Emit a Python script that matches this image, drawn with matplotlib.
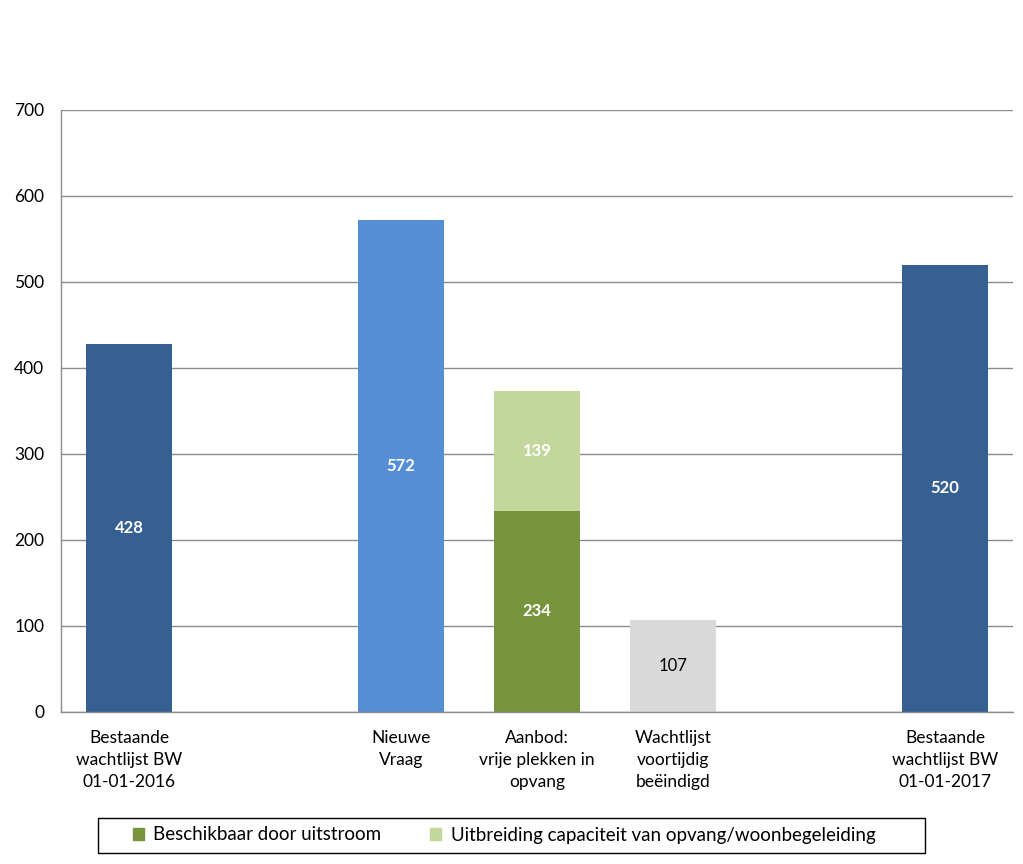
import matplotlib.pyplot as plt
from matplotlib.patches import Rectangle, Patch

plt.rcParams['font.family'] = ['Lato', 'DejaVu Sans']

# categories (two empty slots in between, as in the original chart)
categories = ['Bestaande\nwachtlijst BW\n01-01-2016', '', 'Nieuwe\nVraag',
              'Aanbod:\nvrije plekken in\nopvang', 'Wachtlijst\nvoortijdig\nbeëindigd',
              '', 'Bestaande\nwachtlijst BW\n01-01-2017']

# single bars: (slot index, value, colour, label colour)
single_idx = [0, 2, 4, 6]
single_vals = [428, 572, 107, 520]
single_cols = ['#376092', '#558ED5', '#D9D9D9', '#376092']
single_txt = ['white', 'white', 'black', 'white']

# stacked "Aanbod" bar
stack_idx = 3
uitstroom = 234
uitbreiding = 139
legend_labels = ['Beschikbaar door uitstroom',
                 'Uitbreiding capaciteit van opvang/woonbegeleiding']
green_dark = '#77933C'
green_light = '#C3D69B'

yticks = [0, 100, 200, 300, 400, 500, 600, 700]

fig = plt.figure(figsize=(10.23, 8.64), dpi=100)
ax = fig.add_axes([61 / 1023, 1 - 712 / 864, (1013 - 61) / 1023, (712 - 110) / 864])

w = 0.63
for i, v, c, tc in zip(single_idx, single_vals, single_cols, single_txt):
    ax.bar(i, v, width=w, color=c, zorder=2)
    ax.text(i, v / 2, str(v), ha='center', va='center', color=tc, fontsize=12,
            fontweight='bold' if tc == 'white' else 'normal', zorder=3)

ax.bar(stack_idx, uitstroom, width=w, color=green_dark, zorder=2)
ax.bar(stack_idx, uitbreiding, bottom=uitstroom, width=w, color=green_light, zorder=2)
ax.text(stack_idx, uitstroom / 2, str(uitstroom), ha='center', va='center',
        color='white', fontsize=12, fontweight='bold', zorder=3)
ax.text(stack_idx, uitstroom + uitbreiding / 2, str(uitbreiding), ha='center',
        va='center', color='white', fontsize=12, fontweight='bold', zorder=3)

ax.set_xlim(-0.5, len(categories) - 0.5)
ax.set_ylim(0, 700)
ax.set_yticks(yticks)
ax.set_xticks(range(len(categories)))
ax.set_xticklabels(categories, fontsize=12.5, linespacing=1.45)
ax.tick_params(axis='both', length=0)
ax.tick_params(axis='y', labelsize=12.5, pad=12)
ax.tick_params(axis='x', pad=13)
ax.yaxis.grid(True, color='#8C8C8C', linewidth=1.0, zorder=0)
ax.set_axisbelow(True)
for s in ['top', 'right']:
    ax.spines[s].set_visible(False)
for s in ['left', 'bottom']:
    ax.spines[s].set_color('#8C8C8C')
    ax.spines[s].set_linewidth(1.0)

# legend with a plain rectangular frame
fig.patches.append(Rectangle((98 / 1023, 1 - 853 / 864), 827 / 1023, 35 / 864,
                             transform=fig.transFigure, fill=False,
                             edgecolor='black', linewidth=1.0))
handles = [Patch(color=green_dark), Patch(color=green_light)]
fig.legend(handles, legend_labels, loc='center', ncol=2, frameon=False,
           bbox_to_anchor=(504 / 1023, 1 - 835 / 864), fontsize=13.5,
           handlelength=0.6, handleheight=0.6, handletextpad=0.5, columnspacing=2.6)

fig.savefig('out.png', dpi=100)
